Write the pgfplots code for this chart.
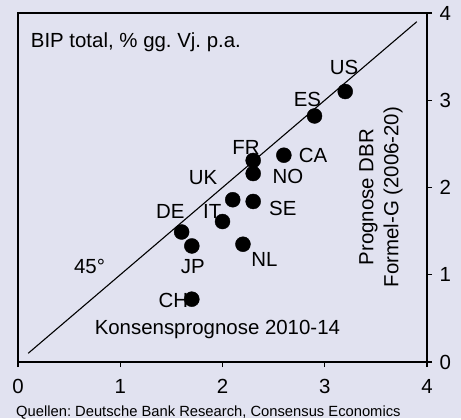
\documentclass[border=0pt]{standalone}
\usepackage{fontspec}
\setmainfont{Liberation Sans}
\usepackage{pgfplots}
\pgfplotsset{compat=1.18}
\definecolor{bg}{HTML}{E1E2F0}
\frenchspacing
\pgfplotstableread{
x y name
3.2 3.1 US
2.9 2.82 ES
2.3 2.31 FR
2.6 2.37 CA
2.3 2.16 NO
2.1 1.86 UK
2.3 1.84 SE
2.0 1.61 IT
1.6 1.49 DE
1.7 1.33 JP
2.2 1.35 NL
1.7 0.72 CH
}\pts
\begin{document}
\frenchspacing
\begin{tikzpicture}[x=1bp,y=1bp]
\fill[bg] (-18,-56) rectangle (443,362);
\begin{axis}[at={(0,0)},anchor=south west,
  scale only axis, width=409bp, height=349bp,
  xmin=0,xmax=4,ymin=0,ymax=4,
  xtick={0,1,2,3,4}, ytick={0,1,2,3,4},
  tick align=outside, xtick pos=bottom, ytick pos=right, yticklabel pos=right,
  major tick length=5bp,
  axis line style={line width=1.5bp},
  tick style={line width=1.3bp, black},
  ticklabel style={font=\fontsize{20.5}{24}\selectfont},
  /pgf/number format/assume math mode=true,
  xticklabel style={yshift=-9bp},
  yticklabel style={xshift=4bp},
  clip=false,
  font=\fontsize{20.5}{25}\selectfont]
\addplot[black, line width=1.1bp] coordinates {(0.1,0.1) (3.9,3.9)};
\node at (axis cs:3.19,3.37) {US};
\node at (axis cs:2.83,3.01) {ES};
\node at (axis cs:2.23,2.46) {FR};
\node at (axis cs:2.885,2.37) {CA};
\node at (axis cs:2.64,2.13) {NO};
\node at (axis cs:1.81,2.11) {UK};
\node at (axis cs:2.59,1.765) {SE};
\node at (axis cs:1.90,1.72) {IT};
\node at (axis cs:1.49,1.73) {DE};
\node at (axis cs:1.71,1.09) {JP};
\node at (axis cs:2.41,1.17) {NL};
\node at (axis cs:1.52,0.71) {CH};
\node at (axis cs:0.70,1.09) {45°};
\node at (axis cs:1.95,0.37) {Konsensprognose 2010-14};
\node[anchor=west, inner sep=0pt] at (axis cs:0.124,3.67) {BIP total, \% gg. Vj. p.a.};
\node[rotate=90, align=center] at (axis cs:3.55,1.89) {Prognose DBR\\Formel-G (2006-20)};
\addplot[only marks, mark=*, mark size=7.5bp, mark options={fill=black, draw=black}] table[x=x,y=y] {\pts};
\end{axis}
\node[anchor=base west, inner sep=0pt, font=\fontsize{14.8}{18}\selectfont] at (-2,-54.5) {Quellen: Deutsche Bank Research, Consensus Economics};
\end{tikzpicture}
\end{document}
